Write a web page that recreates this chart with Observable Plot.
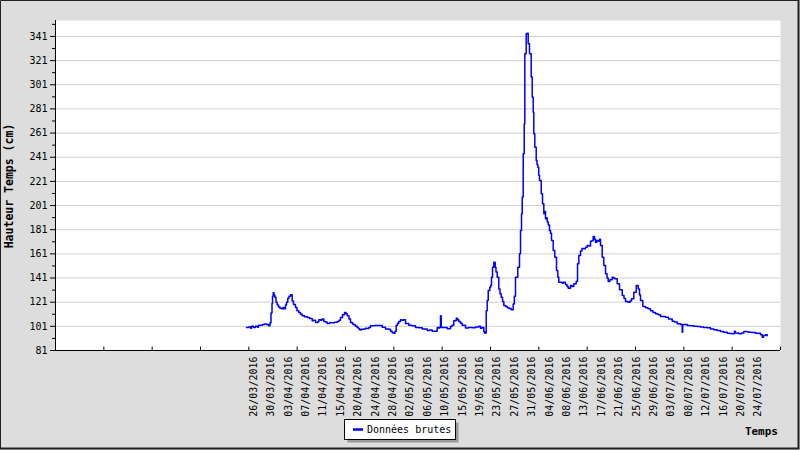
<!DOCTYPE html>
<html><head><meta charset="utf-8">
<script src="https://cdn.jsdelivr.net/npm/d3@7"></script>
<script src="https://cdn.jsdelivr.net/npm/@observablehq/plot@0.6"></script>
<style>
html,body{margin:0;padding:0;background:#fff;}
#chart{position:relative;width:800px;height:450px;overflow:hidden;}
#chart svg{display:block;}
</style></head><body><div id="chart"></div>
<script>
// Days since 26/03/2016 00:00 (UTC)
const jours = [
-1.68,-1.20,-0.72,-0.48,0,0.48,0.96,1.20,2.15,2.63,
3.11,3.59,3.95,4.19,4.43,4.55,4.72,4.91,5.10,5.39,
5.67,5.99,6.34,6.70,7.06,7.30,7.66,7.90,8.21,8.50,
8.86,9.26,9.58,10.05,10.41,10.84,11.25,11.66,12.21,12.86,
13.41,14.05,14.36,14.84,15.32,15.63,16.04,16.40,16.83,17.24,
17.64,18.19,18.84,19.39,20.04,20.47,20.83,21.31,21.79,22.14,
22.43,22.86,23.22,23.70,24.01,24.42,24.83,25.14,25.45,25.86,
26.41,26.81,27.17,27.60,28.01,28.97,29.93,30.81,31.60,32.32,
32.80,33.20,33.59,33.88,34.16,34.47,34.78,35.19,35.55,35.91,
36.39,37.18,37.83,38.78,39.50,40.39,41.58,42.13,42.78,43.57,
43.98,44.29,44.60,44.77,44.94,45.56,46.37,47.16,47.52,47.95,
48.53,48.84,49.15,49.56,49.96,50.75,51.47,52.36,53.15,53.94,
54.34,54.70,55.13,55.37,55.54,55.71,55.95,56.19,56.57,56.79,
56.98,57.22,57.53,57.86,58.05,58.34,58.72,59.01,59.30,59.61,
59.92,60.33,60.74,61.17,61.69,62.17,62.44,62.72,63.27,63.68,
63.92,64.16,64.33,64.57,64.81,64.95,65.28,65.52,65.76,66.07,
66.48,66.72,66.96,67.10,67.34,67.68,67.87,68.06,68.28,68.47,
68.88,69.19,69.50,69.71,69.90,70.14,70.31,70.57,70.86,71.10,
71.34,71.75,72.13,72.54,72.85,73.09,73.33,73.90,74.21,74.69,
75.05,75.34,75.89,76.25,76.68,77.25,77.57,77.88,78.28,78.64,
79.07,79.48,79.89,80.27,80.68,81.04,81.32,81.64,81.87,82.19,
82.52,82.83,83.07,83.48,83.86,84.27,84.63,84.91,85.30,85.87,
86.18,86.50,87.07,87.62,88.27,88.70,89.06,89.70,90.13,90.49,
91.04,91.62,92.10,92.41,92.65,93.20,93.84,94.44,95.04,95.64,
96.24,96.84,97.44,98.63,99.35,100.24,100.79,101.43,102.22,102.53,
102.63,102.75,103.01,103.83,104.62,105.41,106.17,107.01,107.73,108.62,
109.41,110.20,110.96,111.80,112.52,113.40,113.95,114.60,115.03,115.15,
115.34,116.18,116.83,117.38,118.02,118.58,119.22,120.18,120.97,121.38,
121.78,122.09,122.57,122.98
];
// Hauteur (cm)
const hauteur = [
100,100.5,99.5,101,100,101,100.3,102,102.5,103,
102.5,101.5,104,112,120,126,128.8,127,125,121,
118.6,117,116,115.5,116.5,115.5,118.6,121,124.2,126,
127.2,122,119,116.5,114,112.4,111,109.7,109,108.3,
107.5,105.6,106,104.2,104.5,106.5,106,107,105,104.5,
103.4,104,104,104.3,105,106,108.3,110.5,112.4,111.5,
109.7,107,104.2,103,102.3,101,100,99,97.9,98.5,
98.7,99.5,99.3,100,101.5,101.8,101.8,100.2,98.8,98.5,
97,95.7,95.2,97,102,103.5,105,106.5,106,106.4,
103.4,102,101.5,100,99.8,98.7,97.5,98,96.9,96.9,
100,99.6,100.5,109.7,100,100,99,100.8,102,105.6,
107.8,106.5,105,103.5,102,99.6,100,99.8,100.5,101,
99.5,100,96.5,95.2,95.5,114,122.4,130.7,133.4,135,
141.7,150,154.1,150,146,141.7,132,128,125.1,121.5,
118.3,117.5,116.3,115.8,114.7,119.6,126,141.7,150,161,
180.4,194.2,208,243.9,268.7,326.7,343.2,343.7,335,326.7,
307.4,290.7,278.3,260.4,249.3,238.3,235,232.8,226,221.8,
210.7,202.5,194.2,196,190.1,191,187.3,185,180.4,178,
172.1,163.8,158.3,147.2,141.7,137.6,137.6,136.7,137.5,135.6,
134,132.6,134.8,134,136.2,138.4,152.8,159.7,163.3,165.5,
165.2,166.5,168,167.5,171.5,172,175.4,173,170.7,172,
171.5,173,168,158.3,151.4,144.5,141,138.1,139.5,141.7,
141,140.4,136.2,131.3,126.5,124,121.6,121,122,123.8,
129.3,134.8,132,127,122.4,117.4,116.3,115.5,114,112.5,
111.4,110.5,109.2,108.6,107,105.3,104.5,103.2,102.6,102.4,
96.2,102.6,102.6,101.8,101.5,101,100.8,100.4,100,99.8,
98.8,98.1,97.5,96.7,96.2,95.3,95,94.8,95,97,
95.5,94.8,95.5,96.7,96.5,96.2,95.8,95.3,95.3,94,
92,93.5,94,93.3
];
const tickLabels = [
"26/03/2016","30/03/2016","03/04/2016","07/04/2016","11/04/2016","15/04/2016",
"20/04/2016","24/04/2016","28/04/2016","02/05/2016","06/05/2016","10/05/2016",
"15/05/2016","19/05/2016","23/05/2016","27/05/2016","31/05/2016","04/06/2016",
"08/06/2016","13/06/2016","17/06/2016","21/06/2016","25/06/2016","29/06/2016",
"03/07/2016","08/07/2016","12/07/2016","16/07/2016","20/07/2016","24/07/2016"
];
const yMajor = [81,101,121,141,161,181,201,221,241,261,281,301,321,341];
const yMinor = [91,111,131,151,171,191,211,231,251,271,291,311,331,351];
const serie = "Données brutes";
const titreY = "Hauteur Temps (cm)";
const titreX = "Temps";

const DAY = 864e5, HOUR = 36e5;
const t0 = Date.UTC(2016, 2, 26);
const data = jours.map((j, i) => ({date: new Date(t0 + j * DAY), h: hauteur[i]}));
const xDomain = [new Date(t0 - 47.40 * DAY), new Date(t0 + 126.16 * DAY)];
const tickDates = tickLabels.map((s, k) => new Date(t0 + k * 100 * HOUR));
const labelMap = new Map(tickDates.map((d, k) => [+d, tickLabels[k]]));
const bottomTicks = d3.range(16).map(i => new Date(+xDomain[0] + i * (xDomain[1] - xDomain[0]) / 15));

const font = "'DejaVu Sans Mono', monospace";
const chart = Plot.plot({
  width: 800, height: 450,
  marginLeft: 55, marginRight: 20, marginTop: 20, marginBottom: 100,
  style: {background: "#dddddd", fontFamily: font, fontSize: "10px", color: "#000"},
  x: {type: "utc", domain: xDomain},
  y: {domain: [81, 354.2]},
  marks: [
    Plot.frame({fill: "#ffffff", stroke: "none"}),
    Plot.gridY({ticks: yMajor, stroke: "#d0d0d0", strokeOpacity: 1}),
    Plot.line(data, {x: "date", y: "h", stroke: "#0000ff", strokeWidth: 1.5, curve: "step-after"}),
    Plot.ruleY([81], {stroke: "#000"}),
    Plot.ruleX([xDomain[0]], {stroke: "#000"}),
    Plot.ruleX(bottomTicks, {y1: 81, y2: 83.8, stroke: "#000"}),
    Plot.axisY({ticks: yMajor, tickSize: 5, tickPadding: 3, label: null, stroke: "#000"}),
    Plot.axisY({ticks: yMinor.filter(v => v < 354), tickSize: 3, tickFormat: () => "", label: null}),
    Plot.axisX({ticks: tickDates, tickRotate: -90, tickSize: 0, tickPadding: 6,
      tickFormat: d => labelMap.get(+d), label: null})
  ]
});
document.getElementById("chart").appendChild(chart);

const svg = d3.select(chart);
svg.append("text")
  .attr("transform", "translate(13,186) rotate(-90)")
  .attr("text-anchor", "middle")
  .style("font", "bold 11.5px " + font)
  .attr("fill", "#000")
  .text(titreY);
svg.append("text")
  .attr("x", 778).attr("y", 435)
  .attr("text-anchor", "end")
  .style("font", "bold 11px " + font)
  .attr("fill", "#000")
  .text(titreX);
// legend
const lg = svg.append("g");
lg.append("rect").attr("x", 347.5).attr("y", 422.5).attr("width", 111).attr("height", 20).attr("fill", "#9a9a9a");
lg.append("rect").attr("x", 344.5).attr("y", 419.5).attr("width", 111).attr("height", 20)
  .attr("fill", "#fff").attr("stroke", "#000");
lg.append("line").attr("x1", 353).attr("x2", 363).attr("y1", 429.5).attr("y2", 429.5)
  .attr("stroke", "#0000ff").attr("stroke-width", 2.5);
lg.append("text").attr("x", 367).attr("y", 433)
  .attr("text-anchor", "start")
  .style("font", "10px " + font).attr("fill", "#000").text(serie);
// outer border
svg.append("path").attr("d", "M0.5,449 V0.5 H799").attr("fill", "none").attr("stroke", "#222");
svg.append("path").attr("d", "M0,448.5 H798.5 V0").attr("fill", "none").attr("stroke", "#222").attr("stroke-width", 2);
</script>
</body></html>
